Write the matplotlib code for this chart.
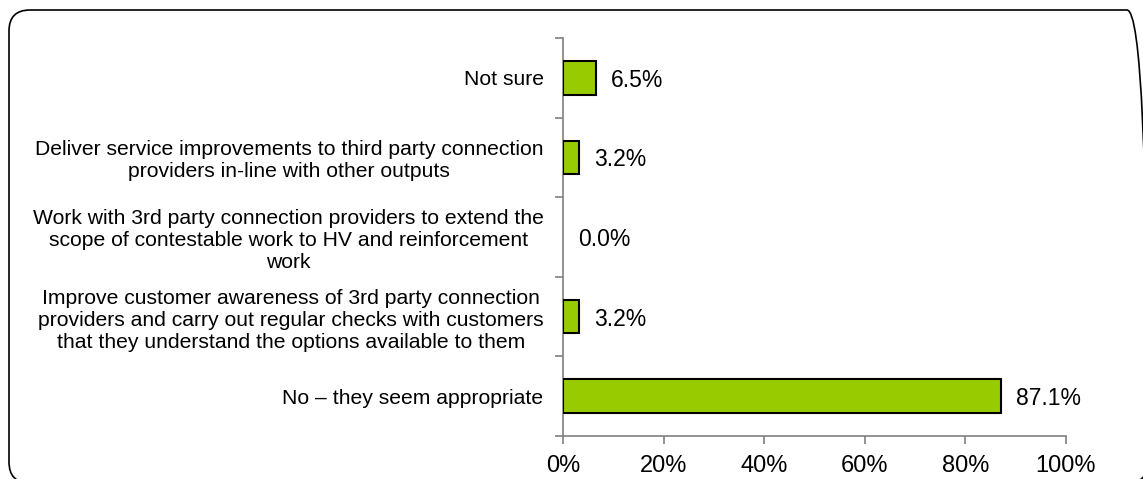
import matplotlib.pyplot as plt
from matplotlib.patches import FancyBboxPatch
import numpy as np

# Survey answers, top to bottom as shown
categories = [
    "Not sure",
    "Deliver service improvements to third party connection\nproviders in-line with other outputs",
    "Work with 3rd party connection providers to extend the\nscope of contestable work to HV and reinforcement\nwork",
    "Improve customer awareness of 3rd party connection\nproviders and carry out regular checks with customers\nthat they understand the options available to them",
    "No \u2013 they seem appropriate",
]
shares = [6.5, 3.2, 0.0, 3.2, 87.1]
x_ticks = [0, 20, 40, 60, 80, 100]
x_tick_labels = ["0%", "20%", "40%", "60%", "80%", "100%"]

plt.rcParams['font.family'] = ['Liberation Sans', 'DejaVu Sans']

W, H = 1143, 479
fig = plt.figure(figsize=(W / 100, H / 100), dpi=100)

# background axes in pixel units (y up), just for the rounded frame
bg = fig.add_axes([0, 0, 1, 1], zorder=-1)
bg.set_xlim(0, W)
bg.set_ylim(0, H)
bg.axis('off')
frame = FancyBboxPatch((9, -4), 1139, 473, boxstyle="round,pad=0,rounding_size=21",
                       fill=False, edgecolor='black', linewidth=1.2, clip_on=False)
bg.add_patch(frame)

ax = fig.add_axes([0.4926, 0.0898, 0.44, 0.8309])

n = len(categories)
pos = np.arange(n)[::-1]
# zero-valued answers get no visible outline
widths = [1.5 if v > 0 else 0 for v in shares]
ax.barh(pos, shares, height=0.42, color='#99CC00', edgecolor='black', linewidth=widths, zorder=3)

for p, v in zip(pos, shares):
    ax.text(v + 3.0, p, f"{v:.1f}%", va='center_baseline', ha='left', fontsize=16.5)

ax.set_xlim(0, 100)
ax.set_ylim(-0.5, n - 0.5)
ax.set_xticks(x_ticks)
ax.set_xticklabels(x_tick_labels, fontsize=17)
ax.set_yticks(pos)
ax.set_yticklabels(categories, fontsize=15.2, multialignment='center')
ax.set_yticks(np.arange(n + 1) - 0.5, minor=True)
ax.tick_params(axis='y', which='major', length=0, pad=14)
ax.tick_params(axis='y', which='minor', length=6, color='#808080', width=1.2, direction='out')
ax.tick_params(axis='x', length=6, color='#808080', width=1.2, direction='out', pad=8)

for s in ['top', 'right']:
    ax.spines[s].set_visible(False)
for s in ['left', 'bottom']:
    ax.spines[s].set_color('#808080')
    ax.spines[s].set_linewidth(1.2)

fig.savefig("out.png", dpi=100)
